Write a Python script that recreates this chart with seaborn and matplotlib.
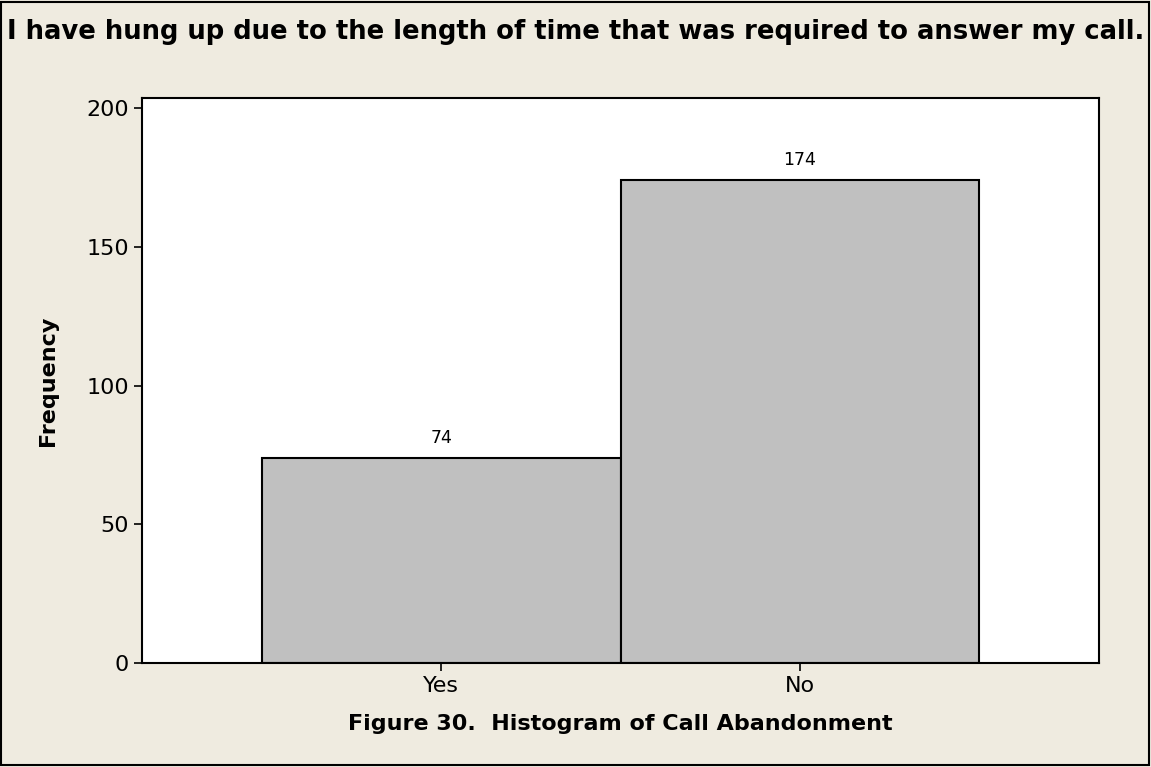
import matplotlib
matplotlib.use('Agg')
import matplotlib.pyplot as plt
import seaborn as sns
import pandas as pd
from matplotlib.patches import Rectangle

# data
categories = ['Yes', 'No']
frequency = [74, 174]
y_ticks = [0, 50, 100, 150, 200]

title = 'I have hung up due to the length of time that was required to answer my call.'
x_label = 'Figure 30.  Histogram of Call Abandonment'
y_label = 'Frequency'

df = pd.DataFrame({'answer': categories, 'count': frequency})

sns.set_style('white')
plt.rcParams['font.family'] = ['DejaVu Sans']
plt.rcParams['text.color'] = 'black'
plt.rcParams['axes.labelcolor'] = 'black'

bg = '#EFEBE0'
fig = plt.figure(figsize=(11.51, 7.67), dpi=100, facecolor=bg)
ax = fig.add_axes([0.1234, 0.1356, 0.8315, 0.7366])
ax.set_facecolor('white')

sns.barplot(data=df, x='answer', y='count', color='#C0C0C0', edgecolor='black',
            linewidth=1.5, width=1.0, saturation=1, ax=ax)

# value labels over bars
for i, v in enumerate(frequency):
    ax.text(i, v + 4, str(v), ha='center', va='bottom', fontsize=12.5, color='black')

ax.set_xlim(-0.835, 1.835)
ax.set_ylim(0, 203.6)
ax.set_yticks(y_ticks)
ax.tick_params(axis='both', direction='out', length=6, width=1.2, labelsize=16,
               left=True, bottom=True, colors='black')
for s in ax.spines.values():
    s.set_color('black')
    s.set_linewidth(1.5)

ax.set_xlabel(x_label, fontsize=16, fontweight='bold')
ax.xaxis.set_label_coords(0.5, -0.09)
ax.set_ylabel(y_label, fontsize=16, fontweight='bold')
ax.yaxis.set_label_coords(-0.088, 0.5)

fig.text(0.5, 1 - 32 / 767, title, ha='center', va='center', fontsize=18.6,
         fontweight='bold', color='black')

# border round the whole figure
fig.patches.append(Rectangle((0.001, 0.002), 0.997, 0.996, transform=fig.transFigure,
                             fill=False, edgecolor='black', linewidth=1.5))

fig.savefig('out.png', dpi=100, facecolor=bg)
